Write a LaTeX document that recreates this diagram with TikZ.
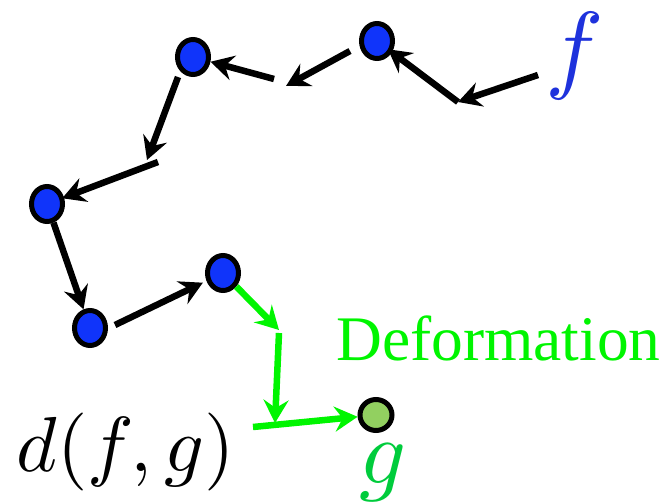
\documentclass[tikz,border=0pt]{standalone}
\usepackage{graphicx}
\usepackage{fontspec}
\newfontfamily\timesfont{Liberation Serif}
\usetikzlibrary{arrows.meta,shapes.geometric}
\definecolor{dotblue}{RGB}{16,52,250}
\definecolor{fblue}{RGB}{30,50,220}
\definecolor{lgreen}{RGB}{0,245,0}
\definecolor{gdark}{RGB}{0,204,60}
\definecolor{gfill}{RGB}{146,208,96}
\begin{document}
\begin{tikzpicture}[x=1pt,y=-1pt,
  dot/.style={ellipse,draw=black,line width=5pt,fill=dotblue,minimum width=31pt,minimum height=35pt,inner sep=0pt},
  gdot/.style={ellipse,draw=black,line width=5pt,fill=gfill,minimum width=32pt,minimum height=31pt,inner sep=0pt},
  arr/.style={line width=6.5pt,-{Stealth[length=23pt,width=25pt,inset=8pt]}},
  blk/.style={arr,draw=black},
  grn/.style={arr,draw=lgreen},
  lbl/.style={inner sep=0pt,anchor=base}]
\useasboundingbox (0,0) rectangle (665,503);

% nodes
\node[dot] (A) at (377,41) {};
\node[dot] (B) at (193,57) {};
\node[dot] (C) at (47,204) {};
\node[dot] (D) at (90,328) {};
\node[dot] (E) at (223,273) {};
\node[gdot] (G) at (376,415) {};

% free ends
\coordinate (c1) at (538,75);
\coordinate (c2) at (458,102);
\coordinate (c3) at (350,51);
\coordinate (c4) at (286,86);
\coordinate (c5) at (274,79);
\coordinate (c6) at (178,77);
\coordinate (c7) at (147,160);
\coordinate (c8) at (158,162);
\coordinate (c10) at (115,325);
\coordinate (c11) at (279,330);
\coordinate (c13) at (275,423);
\coordinate (c12) at (253,427);

% black path
\draw[blk] (c1) -- (c2);
\draw[blk,shorten >=-5pt] (c2) -- (A);
\draw[blk] (c3) -- (c4);
\draw[blk] (c5) -- (B);
\draw[blk] (c6) -- (c7);
\draw[blk,shorten >=-2pt] (c8) -- (C);
\draw[blk] (C) -- (D);
\draw[blk,shorten >=4pt] (c10) -- (E);

% green path
\draw[grn] (E) -- (c11);
\draw[grn] ([yshift=-3pt]c11) -- (c13);
\draw[grn] (c12) -- (G);

% labels
\node[lbl,text=fblue] (f) at (575,81) {\scalebox{9.8}{$f$}};
\node[lbl] (d) at (126,471) {\scalebox{7.8}{$d(f,g)$}};
\node[lbl,anchor=base west,text=lgreen] (def) at (336,360) {\timesfont\fontsize{63.5}{65}\selectfont Deformation};
\node[lbl,text=gdark] (glbl) at (383,483) {\scalebox{9.2}{$g$}};
\end{tikzpicture}
\end{document}
